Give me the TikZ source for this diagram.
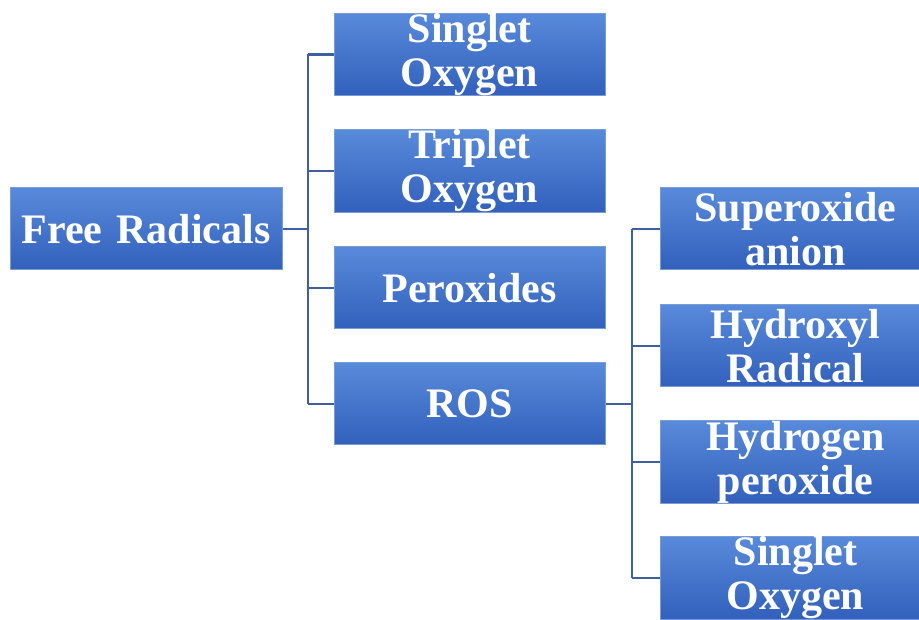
\documentclass[tikz,border=0pt]{standalone}
\usepackage{fontspec}
\setmainfont{Liberation Serif}
\definecolor{boxtop}{RGB}{88,138,218}
\definecolor{boxbot}{RGB}{50,96,188}
\definecolor{boxline}{RGB}{120,156,212}
\definecolor{connline}{RGB}{62,96,160}
\tikzset{
  radbox/.style={rectangle,draw=boxline,line width=1pt,top color=boxtop,bottom color=boxbot,
    minimum width=271,minimum height=82,inner sep=0pt,text width=265,align=center,
    text=white,font=\fontsize{42}{44}\selectfont\bfseries},
  conn/.style={draw=connline,line width=2.4pt}
}
\begin{document}
\begin{tikzpicture}[x=1pt,y=1pt]
\useasboundingbox (0,0) rectangle (919,619);
\clip (0,0) rectangle (919,619);
\node[radbox,minimum width=272] (fr) at (146,390) {Free Radicals};
\node[radbox] (so) at (469.5,564.5) {Singlet\\Oxygen};
\node[radbox] (to) at (469.5,448) {Triplet\\Oxygen};
\node[radbox] (px) at (469.5,331) {Peroxides};
\node[radbox] (ros) at (469.5,215) {ROS};
\node[radbox] (sa) at (795.5,390) {Superoxide\\anion};
\node[radbox] (hr) at (795.5,273) {Hydroxyl\\Radical};
\node[radbox] (hp) at (795.5,157) {Hydrogen\\peroxide};
\node[radbox] (sx) at (795.5,41) {Singlet\\Oxygen};
\coordinate (ta) at (308,390);
\coordinate (tb) at (632,215);
\draw[conn] (fr.east) -- (ta);
\draw[conn] (ta |- so.west) -- (ta |- ros.west);
\foreach \n in {so,to,px,ros}
  \draw[conn] (ta |- \n.west) -- (\n.west);
\draw[conn] (ros.east) -- (tb);
\draw[conn] (tb |- sa.west) -- (tb |- sx.west);
\foreach \n in {sa,hr,hp,sx}
  \draw[conn] (tb |- \n.west) -- (\n.west);
\end{tikzpicture}
\end{document}
